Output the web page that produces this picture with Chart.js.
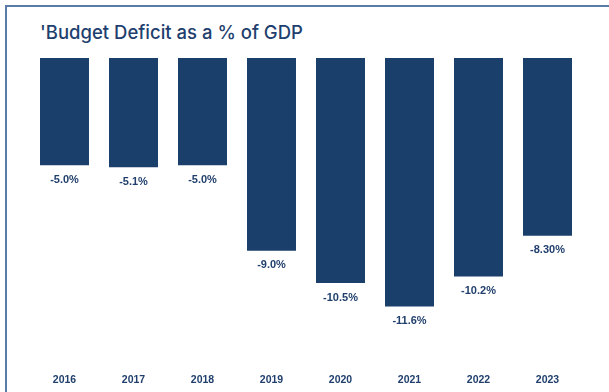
<!DOCTYPE html>
<html>
<head>
<meta charset="utf-8">
<script src="https://cdn.jsdelivr.net/npm/chart.js@4"></script>
<style>
  html, body { margin: 0; padding: 0; background: #fff; }
  #wrap { position: relative; width: 609px; height: 392px; overflow: hidden; }
  #frame {
    position: absolute; left: 5px; top: 5px; width: 700px; height: 500px;
    border-left: 2px solid #5a7aa8; border-top: 2px solid #5a7aa8;
  }
  #title {
    position: absolute; left: 40px; top: 22px; margin: 0;
    font-family: Inter, "Open Sans", sans-serif; font-weight: 500;
    font-size: 18.5px; line-height: 20px; color: #1f3f6e; white-space: nowrap;
  }
  canvas { position: absolute; left: 0; top: 0; }
</style>
</head>
<body>
<div id="wrap">
  <div id="frame"></div>
  <h1 id="title">'Budget Deficit as a % of GDP</h1>
  <canvas id="canvas" width="609" height="392"></canvas>
</div>
<script>
// years and deficit values (% of GDP)
const years = ['2016', '2017', '2018', '2019', '2020', '2021', '2022', '2023'];
const deficit = [-5.0, -5.1, -5.0, -9.0, -10.5, -11.6, -10.2, -8.3];
const valueLabels = ['-5.0%', '-5.1%', '-5.0%', '-9.0%', '-10.5%', '-11.6%', '-10.2%', '-8.30%'];

const navy = '#1b3f6b';
const textNavy = '#203f6c';

// writes the value under each bar
const barValues = {
    id: 'barValues',
    afterDatasetsDraw(chart) {
        const ctx = chart.ctx;
        const meta = chart.getDatasetMeta(0);
        ctx.save();
        ctx.font = 'bold 11px "Liberation Sans", Arial, sans-serif';
        ctx.fillStyle = textNavy;
        ctx.textAlign = 'center';
        ctx.textBaseline = 'middle';
        meta.data.forEach(function (bar, i) {
            ctx.fillText(valueLabels[i], bar.x, bar.y + 14.5);
        });
        ctx.restore();
    }
};

const ctx = document.getElementById('canvas').getContext('2d');
const myChart = new Chart(ctx, {
    type: 'bar',
    data: {
        labels: years,
        datasets: [{
            data: deficit,
            backgroundColor: navy,
            borderWidth: 0,
            barPercentage: 0.71,
            categoryPercentage: 1
        }]
    },
    options: {
        responsive: false,
        animation: false,
        layout: {
            padding: { top: 58, left: 30, right: 27, bottom: 4 }
        },
        plugins: {
            legend: { display: false },
            tooltip: { enabled: false }
        },
        scales: {
            x: {
                grid: { display: false, drawTicks: false },
                border: { display: false },
                afterFit: function (scale) {
                    scale.height = 30;
                },
                ticks: {
                    color: textNavy,
                    padding: 16,
                    maxRotation: 0,
                    autoSkip: false,
                    font: { family: '"Liberation Sans", Arial, sans-serif', size: 10.5, weight: 'bold' }
                }
            },
            y: {
                display: false,
                min: -14,
                max: 0
            }
        }
    },
    plugins: [barValues]
});
</script>
</body>
</html>
